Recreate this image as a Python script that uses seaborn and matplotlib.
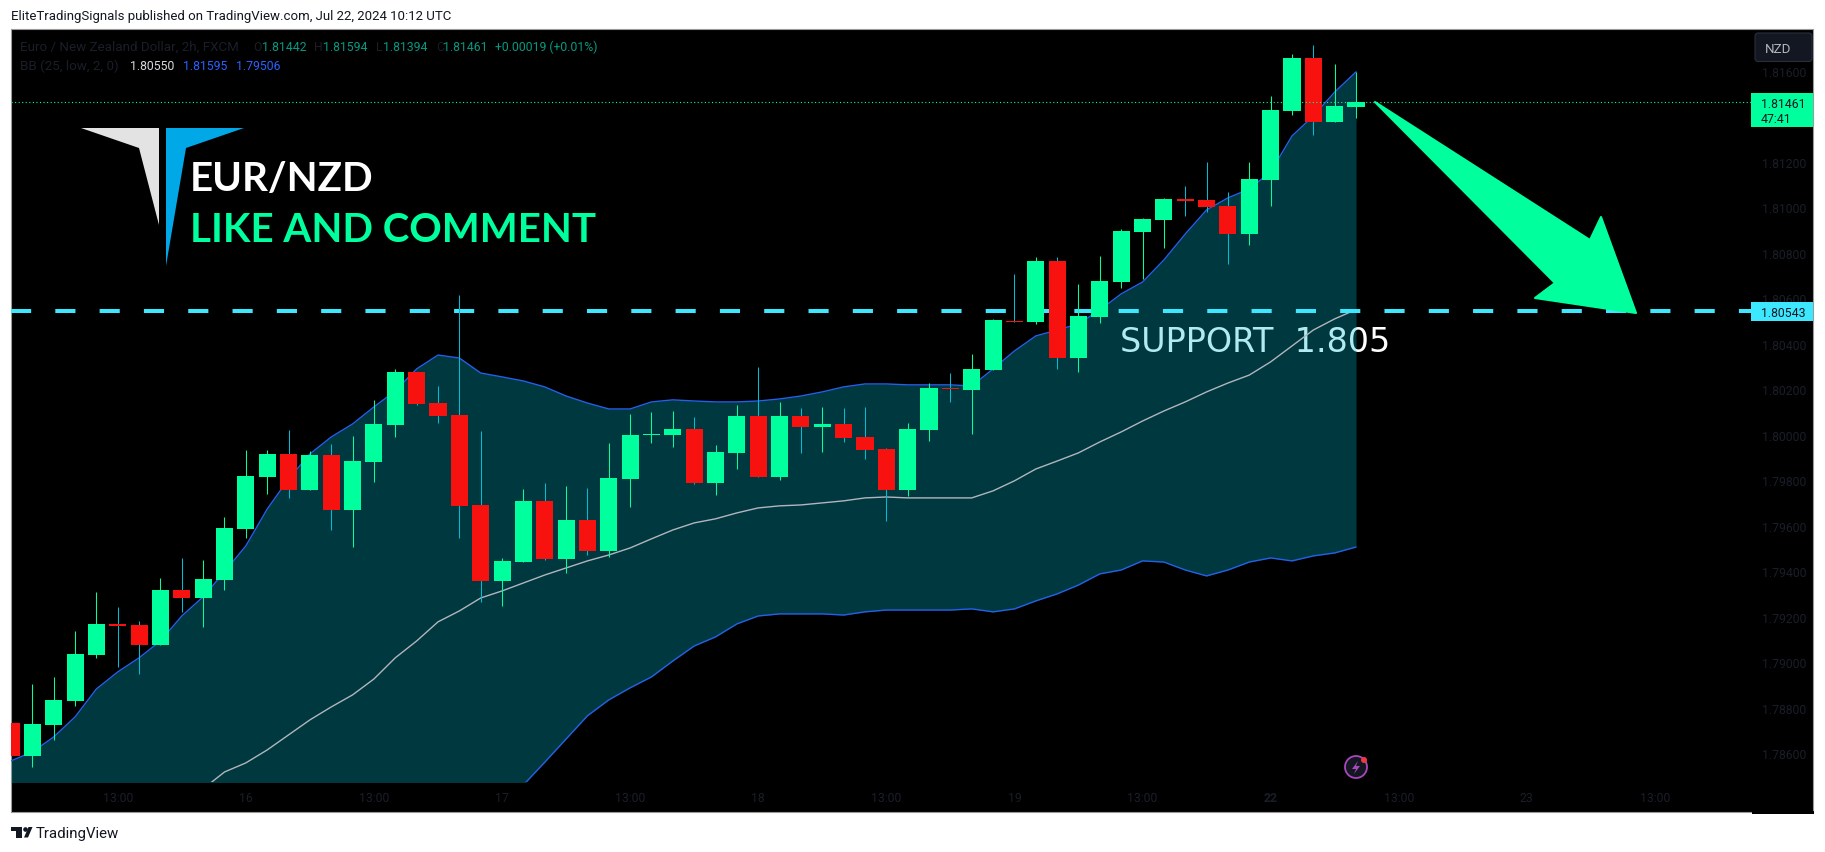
import numpy as np
import pandas as pd
import matplotlib
matplotlib.use("Agg")
import matplotlib.pyplot as plt
from matplotlib.patches import Polygon, Rectangle, FancyBboxPatch, Circle
import seaborn as sns

# EUR/NZD 2h candles
opens = [1.78733, 1.78588, 1.78724, 1.78829, 1.79032, 1.79168, 1.79164, 1.79076, 1.79317, 1.79282,
         1.79361, 1.79585, 1.79814, 1.79915, 1.79757, 1.79911, 1.79669, 1.79880, 1.80043, 1.80276,
         1.80139, 1.80087, 1.79691, 1.79357, 1.79440, 1.79709, 1.79454, 1.79625, 1.79489, 1.79805,
         1.79999, 1.79999, 1.80025, 1.79788, 1.79920, 1.80082, 1.79814, 1.80082, 1.80034, 1.80047,
         1.79990, 1.79937, 1.79757, 1.80021, 1.80205, 1.80197, 1.80284, 1.80500, 1.80495, 1.80764,
         1.80337, 1.80517, 1.80671, 1.80891, 1.80944, 1.81036, 1.81032, 1.81005, 1.80882, 1.81120,
         1.81423, 1.81656, 1.81375, 1.81442]
highs = [1.78733, 1.78904, 1.78935, 1.79137, 1.79309, 1.79243, 1.79181, 1.79370, 1.79458, 1.79449,
         1.79638, 1.79933, 1.79933, 1.80021, 1.79928, 1.79959, 1.79994, 1.80153, 1.80289, 1.80276,
         1.80214, 1.80614, 1.80016, 1.79458, 1.79761, 1.79788, 1.79775, 1.79766, 1.79964, 1.80091,
         1.80100, 1.80104, 1.80078, 1.79955, 1.80131, 1.80298, 1.80144, 1.80117, 1.80122, 1.80117,
         1.80122, 1.79942, 1.80052, 1.80227, 1.80271, 1.80355, 1.80509, 1.80706, 1.80781, 1.80781,
         1.80662, 1.80785, 1.80904, 1.80953, 1.81041, 1.81093, 1.81199, 1.81067, 1.81199, 1.81489,
         1.81673, 1.81713, 1.81629, 1.81594]
lows = [1.78588, 1.78539, 1.78658, 1.78808, 1.79019, 1.78979, 1.78948, 1.79076, 1.79221, 1.79155,
        1.79317, 1.79546, 1.79739, 1.79722, 1.79757, 1.79581, 1.79506, 1.79792, 1.79990, 1.80131,
        1.80052, 1.79546, 1.79265, 1.79247, 1.79440, 1.79449, 1.79392, 1.79471, 1.79462, 1.79682,
        1.79964, 1.79946, 1.79783, 1.79735, 1.79849, 1.79814, 1.79801, 1.79920, 1.79924, 1.79968,
        1.79893, 1.79621, 1.79731, 1.79972, 1.80144, 1.80003, 1.80284, 1.80495, 1.80487, 1.80289,
        1.80276, 1.80491, 1.80645, 1.80684, 1.80821, 1.80961, 1.80979, 1.80750, 1.80834, 1.81005,
        1.81405, 1.81317, 1.81375, 1.81394]
closes = [1.78588, 1.78728, 1.78834, 1.79036, 1.79168, 1.79159, 1.79076, 1.79317, 1.79282, 1.79366,
          1.79590, 1.79819, 1.79915, 1.79757, 1.79911, 1.79669, 1.79884, 1.80047, 1.80276, 1.80135,
          1.80082, 1.79687, 1.79357, 1.79445, 1.79709, 1.79454, 1.79625, 1.79489, 1.79810, 1.79999,
          1.80003, 1.80025, 1.79788, 1.79924, 1.80082, 1.79814, 1.80082, 1.80034, 1.80047, 1.79985,
          1.79933, 1.79757, 1.80025, 1.80205, 1.80201, 1.80289, 1.80504, 1.80495, 1.80764, 1.80337,
          1.80522, 1.80676, 1.80895, 1.80948, 1.81036, 1.81027, 1.81001, 1.80882, 1.81124, 1.81427,
          1.81656, 1.81375, 1.81445, 1.81461]

# Bollinger bands, lower and basis run off the bottom at first so those are rough
upper_band = [1.78566, 1.78605, 1.78671, 1.78759, 1.78882, 1.78957, 1.79019, 1.79093, 1.79203, 1.79287,
              1.79397, 1.79511, 1.79673, 1.79805, 1.79915, 1.79990, 1.80047, 1.80122, 1.80192, 1.80289,
              1.80350, 1.80337, 1.80271, 1.80254, 1.80236, 1.80210, 1.80170, 1.80139, 1.80113, 1.80113,
              1.80144, 1.80153, 1.80148, 1.80144, 1.80144, 1.80148, 1.80157, 1.80170, 1.80188, 1.80210,
              1.80223, 1.80223, 1.80219, 1.80219, 1.80219, 1.80214, 1.80289, 1.80368, 1.80434, 1.80460,
              1.80487, 1.80548, 1.80619, 1.80671, 1.80768, 1.80882, 1.80988, 1.81041, 1.81080, 1.81155,
              1.81313, 1.81401, 1.81506, 1.81595]
basis_band = [np.nan] * 9 + [1.78443,
              1.78517, 1.78557, 1.78614, 1.78680, 1.78746, 1.78803, 1.78856, 1.78926, 1.79019, 1.79093,
              1.79177, 1.79225, 1.79282, 1.79313, 1.79348, 1.79383, 1.79414, 1.79445, 1.79471, 1.79502,
              1.79542, 1.79581, 1.79612, 1.79630, 1.79656, 1.79678, 1.79687, 1.79691, 1.79700, 1.79709,
              1.79722, 1.79726, 1.79722, 1.79722, 1.79722, 1.79722, 1.79753, 1.79797, 1.79849, 1.79884,
              1.79920, 1.79968, 1.80012, 1.80060, 1.80104, 1.80144, 1.80188, 1.80227, 1.80262, 1.80320,
              1.80390, 1.80460, 1.80509, 1.80550]
lower_band = [1.77900] * 20 + [
              1.77960, 1.78113, 1.78293, 1.78372, 1.78460, 1.78560, 1.78662, 1.78764, 1.78834, 1.78887,
              1.78935, 1.79005, 1.79071, 1.79111, 1.79168, 1.79203, 1.79212, 1.79212, 1.79212, 1.79207,
              1.79221, 1.79229, 1.79229, 1.79229, 1.79229, 1.79234, 1.79221, 1.79234, 1.79269, 1.79300,
              1.79339, 1.79388, 1.79405, 1.79445, 1.79440, 1.79405, 1.79379, 1.79405, 1.79440, 1.79458,
              1.79445, 1.79467, 1.79480, 1.79506]

time_ticks = [5, 11, 17, 23, 29, 35, 41, 47, 53, 59, 65, 71, 77]
time_labels = ["13:00", "16", "13:00", "17", "13:00", "18", "13:00", "19", "13:00", "22", "13:00", "23", "13:00"]
# 1.814 is left out, the last-price tag covers that spot
price_ticks = [1.786, 1.788, 1.790, 1.792, 1.794, 1.796, 1.798, 1.800, 1.802, 1.804, 1.806, 1.808, 1.810,
               1.812, 1.816]
support_level = 1.80543
last_close = 1.81461

GREEN = "#00ff9d"
RED = "#f7120f"
CYAN = "#3de8ff"
BLUE = "#2962ff"
DIM = "#1a1e29"

sns.set_theme(style="dark", rc={"axes.grid": False})
plt.rcParams["font.family"] = ["Roboto", "DejaVu Sans"]

W, H = 1825, 853
fig = plt.figure(figsize=(W / 100, H / 100), dpi=100, facecolor="white")

# screen-pixel layers under and over the price axes
bg = fig.add_axes([0, 0, 1, 1], zorder=0)
fg = fig.add_axes([0, 0, 1, 1], zorder=2)
for layer in (bg, fg):
    layer.set_xlim(0, W)
    layer.set_ylim(H, 0)
    layer.axis("off")
    layer.patch.set_visible(False)

bg.add_patch(Rectangle((11, 30), 1802, 783, fc="black", ec="#9a9a9a", lw=0.8))
bg.add_patch(Rectangle((1752, 812), 62, 3, fc="black", ec="none"))
# sits under the band fill, which is what tints it in the reference
bg.text(1120, 352, "SUPPORT  1.805", color="white", fontsize=24, family="DejaVu Sans", va="baseline")

ax = fig.add_axes([11 / W, 1 - 783 / H, 1740 / W, 752 / H], zorder=1)
ax.patch.set_visible(False)
for spine in ax.spines.values():
    spine.set_visible(False)

bars = np.arange(len(opens))
ax.fill_between(bars, upper_band, lower_band, color="#00bcd4", alpha=0.3, lw=0, zorder=1)

bands = pd.DataFrame({
    "bar": np.tile(bars, 3),
    "price": upper_band + basis_band + lower_band,
    "band": ["upper"] * 64 + ["basis"] * 64 + ["lower"] * 64,
})
sns.lineplot(data=bands[bands.band != "basis"], x="bar", y="price", hue="band",
             palette={"upper": "#2460e8", "lower": "#2460e8"}, estimator=None, legend=False,
             linewidth=1.0, ax=ax, zorder=2)
sns.lineplot(data=bands[bands.band == "basis"], x="bar", y="price", color="#b2b5be", estimator=None,
             legend=False, linewidth=1.0, ax=ax, zorder=2)

ax.plot([0, 81.5], [support_level, support_level], color=CYAN, lw=2.9, ls=(0, (5, 6)), zorder=3)

rising = np.array(closes) >= np.array(opens)
ax.vlines(bars, lows, highs, colors=np.where(rising, GREEN, "#00bcd4"), lw=0.75, zorder=4)
ax.bar(bars, np.abs(np.array(closes) - np.array(opens)), bottom=np.minimum(opens, closes), width=0.8,
       color=np.where(rising, GREEN, RED), lw=0, zorder=5)
ax.axhline(last_close, color=GREEN, lw=0.8, ls=(0, (1, 2.2)), zorder=6)

ax.set_xlim(0, 81.5)
ax.set_ylim(1.78473, 1.81779)
ax.set_xlabel("")
ax.set_ylabel("")
ax.yaxis.tick_right()
ax.set_yticks(price_ticks, [f"{p:.5f}" for p in price_ticks])
ax.set_xticks(time_ticks, time_labels)
ax.tick_params(axis="y", length=0, pad=7.6, labelsize=8.8, labelcolor=DIM)
ax.tick_params(axis="x", length=0, pad=6.5, labelsize=8.8, labelcolor=DIM)
ax.get_xticklabels()[time_labels.index("22")].set_fontweight("bold")

# logo, headline and the big arrow
fg.add_patch(Polygon([(81, 129), (159, 129), (159, 226), (139, 149)], fc="#e3e3e3", ec="none"))
fg.add_patch(Polygon([(166, 129), (244, 129), (186, 149), (166, 267)], fc="#00a8e8", ec="none"))
fg.text(190, 191, "EUR/NZD", color="white", fontsize=29, fontweight="bold", family="Lato", va="baseline")
fg.text(190, 242, "LIKE AND COMMENT", color=GREEN, fontsize=29, fontweight="bold", family="Lato", va="baseline")
fg.add_patch(Polygon([(1375, 103), (1590, 241), (1601, 218), (1636, 314), (1535, 299), (1555, 284)],
                     fc=GREEN, ec=GREEN, lw=1.5, joinstyle="round"))

# legend lines at the top left
legend_bits = [
    (20, 47, "Euro / New Zealand Dollar, 2h, FXCM", DIM, 9.6), (253, 47, "O", DIM, 8.8),
    (262, 47, "1.81442", "#089981", 8.8), (314, 47, "H", DIM, 8.8), (323, 47, "1.81594", "#089981", 8.8),
    (376, 47, "L", DIM, 8.8), (383, 47, "1.81394", "#089981", 8.8), (436, 47, "C", DIM, 8.8),
    (443, 47, "1.81461", "#089981", 8.8), (495, 47, "+0.00019 (+0.01%)", "#089981", 8.8),
    (20, 66, "BB (25, low, 2, 0)", DIM, 9.6), (130, 66, "1.80550", "#d8dade", 8.8),
    (183, 66, "1.81595", BLUE, 8.8), (236, 66, "1.79506", BLUE, 8.8),
]
for x, y, label, colour, size in legend_bits:
    fg.text(x, y, label, color=colour, fontsize=size, va="center")

# price scale furniture
fg.add_patch(FancyBboxPatch((1755, 34), 57, 28.5, boxstyle="round,pad=0,rounding_size=3", fc="#131722",
                            ec="#2a2e39", lw=0.8))
fg.text(1778, 49, "NZD", color="#b2b5be", fontsize=9.6, ha="center", va="center")
fg.add_patch(Rectangle((1751, 94), 62, 34, fc=GREEN, ec="none"))
fg.text(1761, 104, "1.81461", color="#131722", fontsize=8.8, va="center")
fg.text(1761, 119, "47:41", color="#131722", fontsize=8.8, va="center")
fg.add_patch(Rectangle((1751, 303), 62, 19, fc=CYAN, ec="none"))
fg.text(1761, 313, "1.80543", color="#131722", fontsize=8.8, va="center")

# bolt badge
fg.add_patch(Circle((1356, 768), 11, fc="#131722", ec="#ab47bc", lw=1.3))
fg.add_patch(Polygon([(1358, 762), (1352, 770), (1356, 770), (1354, 775), (1360, 767), (1356, 767)],
                     fc="#ab47bc", ec="none"))
fg.add_patch(Circle((1364, 761), 3, fc="#f23645", ec="none"))

# publisher strip and footer
fg.text(11, 16.5, "EliteTradingSignals published on TradingView.com, Jul 22, 2024 10:12 UTC", color="#131722",
        fontsize=9.5, va="center")
fg.add_patch(Polygon([(11, 828), (22, 828), (22, 838.5), (16, 838.5), (16, 832), (11, 832)], fc="#131722", ec="none"))
fg.add_patch(Circle((25.5, 830.5), 2.3, fc="#131722", ec="none"))
fg.add_patch(Polygon([(28.5, 828), (32.5, 828), (28, 838.5), (24, 838.5)], fc="#131722", ec="none"))
fg.text(35.5, 834, "TradingView", color="#131722", fontsize=10.8, va="center")

fig.savefig("out.png", dpi=100, facecolor="white")
